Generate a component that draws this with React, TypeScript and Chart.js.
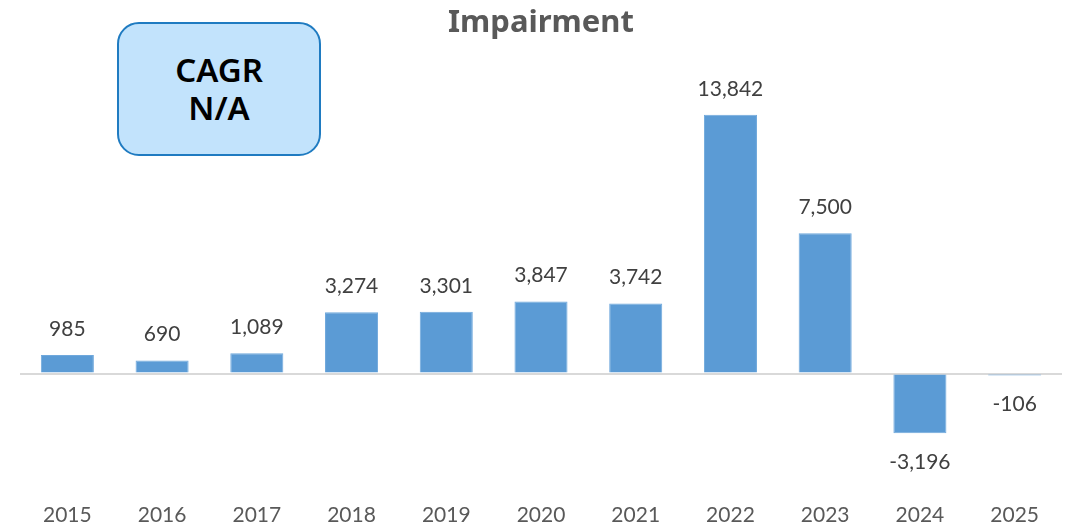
import React, { useEffect, useRef } from "react";
import { Chart, registerables } from "chart.js";

Chart.register(...registerables);

const years = ["2015", "2016", "2017", "2018", "2019", "2020", "2021", "2022", "2023", "2024", "2025"];
const impairment = [985, 690, 1089, 3274, 3301, 3847, 3742, 13842, 7500, -3196, -106];
const chartTitle = "Impairment";
const cagrLines = ["CAGR", "N/A"];

const fmt = (v: number) => v.toLocaleString("en-US");

const labelPlugin = {
  id: "valueLabels",
  afterDatasetsDraw(chart: any) {
    const { ctx } = chart;
    const meta = chart.getDatasetMeta(0);
    ctx.save();
    ctx.font = "21px Lato, 'Noto Sans', sans-serif";
    ctx.fillStyle = "#404040";
    ctx.textAlign = "center";
    ctx.textBaseline = "middle";
    meta.data.forEach((bar: any, i: number) => {
      const v = impairment[i];
      const y = v >= 0 ? bar.y - 26 : bar.y + 29;
      ctx.fillText(fmt(v), bar.x, y);
    });
    ctx.restore();
  },
};

export default function App() {
  const ref = useRef<HTMLCanvasElement>(null);
  useEffect(() => {
    if (!ref.current) return;
    const chart = new Chart(ref.current, {
      type: "bar",
      data: {
        labels: years,
        datasets: [
          {
            data: impairment,
            backgroundColor: "#5b9bd5",
            borderColor: "#6fa8dc",
            borderWidth: 1,
            barPercentage: 0.56,
            categoryPercentage: 1,
          },
        ],
      },
      options: {
        animation: false,
        responsive: true,
        maintainAspectRatio: false,
        layout: { padding: { left: 20, right: 11, top: 0, bottom: -3 } },
        plugins: {
          legend: { display: false },
          tooltip: { enabled: false },
          title: {
            display: true,
            text: chartTitle,
            color: "#595959",
            font: { family: "'Noto Sans', sans-serif", size: 31, weight: "bold" },
            padding: { top: 5, bottom: 8 },
          },
        },
        scales: {
          x: {
            grid: { display: false },
            border: { display: false },
            ticks: {
              color: "#595959",
              font: { family: "Lato, 'Noto Sans', sans-serif", size: 21 },
              padding: 3,
            },
          },
          y: {
            min: -6330,
            max: 17300,
            afterBuildTicks: (scale: any) => {
              scale.ticks = [{ value: 0 }];
            },
            ticks: { display: false },
            border: { display: false },
            grid: { color: "#d9d9d9", lineWidth: 2, drawTicks: false },
          },
        },
      },
      plugins: [labelPlugin],
    });
    return () => chart.destroy();
  }, []);

  return (
    <div style={{ position: "fixed", left: 0, top: 0, width: 1073, height: 528, background: "#fff" }}>
      <canvas ref={ref} />
      <div
        style={{
          position: "absolute",
          left: 117,
          top: 22,
          width: 204,
          height: 134,
          boxSizing: "border-box",
          border: "2px solid #1f7bc1",
          borderRadius: 22,
          background: "#c2e3fc",
          display: "flex",
          flexDirection: "column",
          alignItems: "center",
          justifyContent: "center",
          fontFamily: "'Noto Sans', sans-serif",
          fontWeight: 600,
          fontSize: 33,
          lineHeight: "38px",
          color: "#000",
        }}
      >
        {cagrLines.map((t) => (
          <div key={t}>{t}</div>
        ))}
      </div>
    </div>
  );
}
